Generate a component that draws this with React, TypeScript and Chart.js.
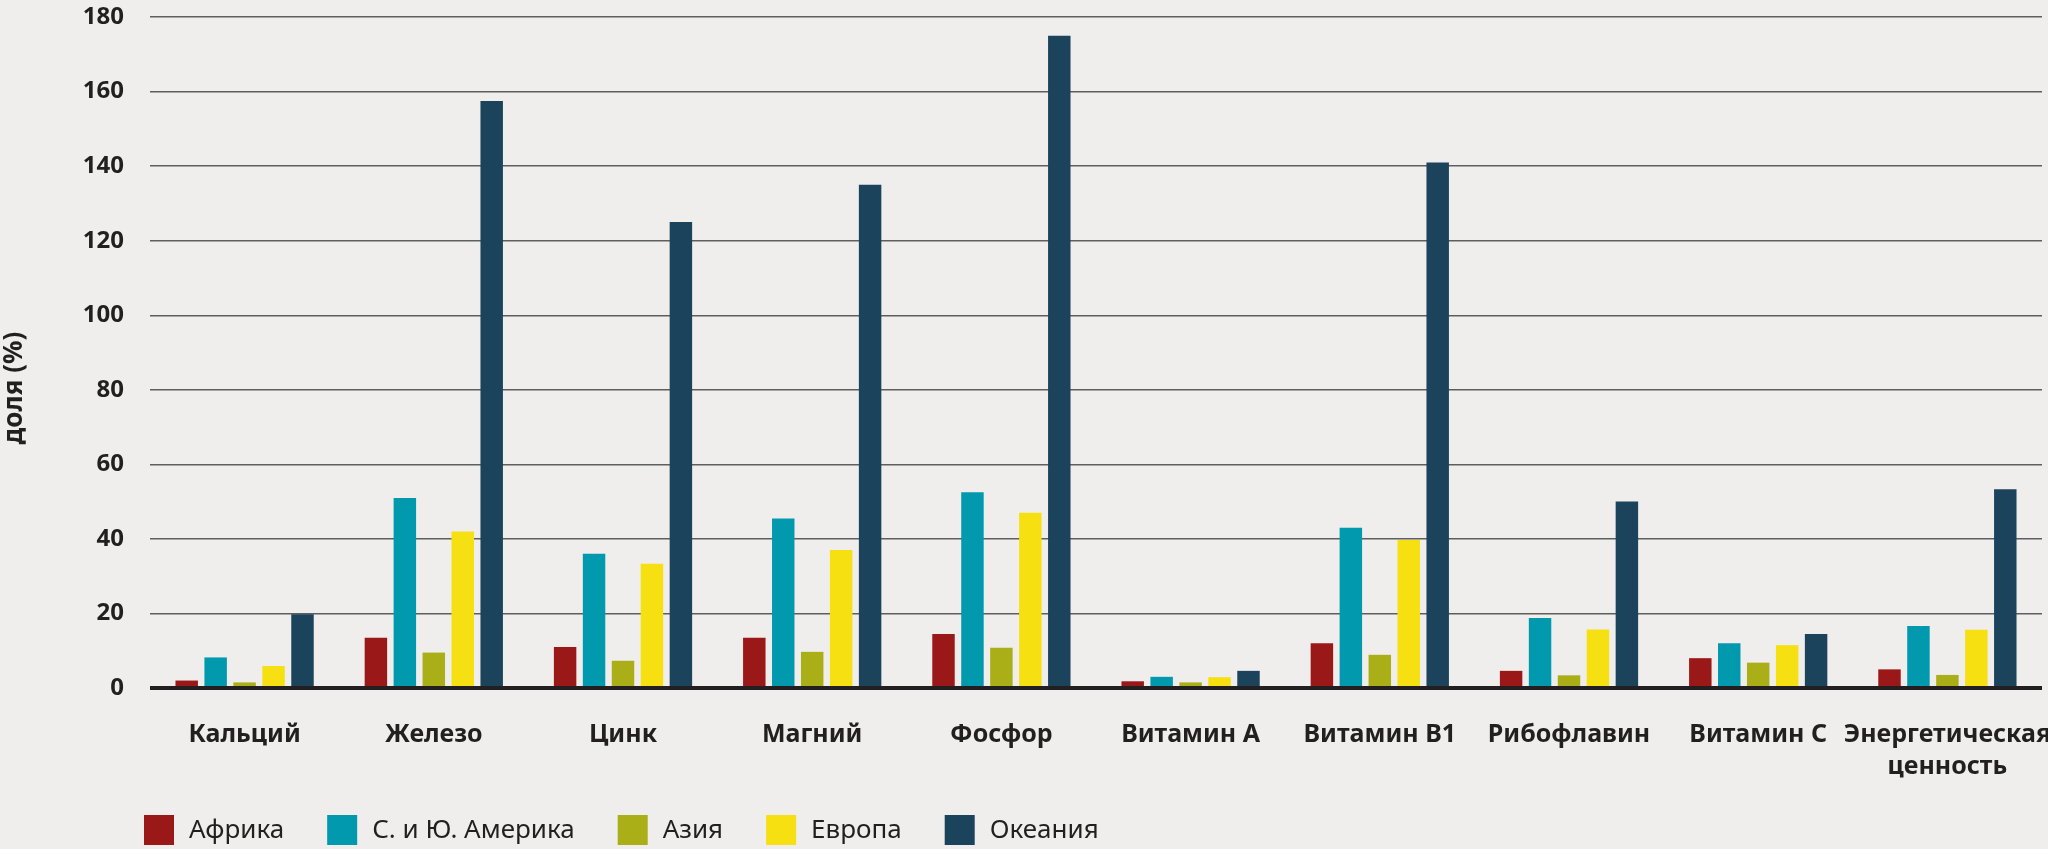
import React, { useEffect, useRef } from "react";
import { Chart, registerables } from "chart.js";

Chart.register(...registerables);

const categories: (string | string[])[] = [
  "Кальций",
  "Железо",
  "Цинк",
  "Магний",
  "Фосфор",
  "Витамин А",
  "Витамин В1",
  "Рибофлавин",
  "Витамин С",
  ["Энергетическая", "ценность"],
];

const seriesNames = ["Африка", "С. и Ю. Америка", "Азия", "Европа", "Океания"];
const seriesColors = ["#9b1818", "#0099ad", "#aaaf17", "#f6e012", "#1b435c"];

const africa = [2, 13.5, 11, 13.5, 14.5, 1.8, 12, 4.6, 8, 5];
const americas = [8.2, 51, 36, 45.5, 52.5, 3, 43, 18.8, 12, 16.6];
const asia = [1.5, 9.5, 7.3, 9.7, 10.8, 1.5, 8.9, 3.4, 6.8, 3.5];
const europe = [5.9, 42, 33.3, 37, 47, 2.9, 39.7, 15.7, 11.5, 15.6];
const oceania = [19.8, 157.5, 125, 135, 175, 4.6, 141, 50, 14.5, 53.3];

const yTitle = "доля (%)";
const yMin = 0;
const yMax = 180;
const yStep = 20;

const TEXT = "#231f20";
const BG = "#efeeec";

const yTitlePlugin = {
  id: "yTitleCustom",
  afterDraw(chart: any) {
    const ctx = chart.ctx;
    ctx.save();
    ctx.translate(15, 388);
    ctx.rotate(-Math.PI / 2);
    ctx.font = '700 26px "Noto Sans"';
    ctx.fillStyle = TEXT;
    ctx.textAlign = "center";
    ctx.textBaseline = "middle";
    ctx.fillText(yTitle, 0, 0);
    ctx.restore();
  },
};

const legendPlugin = {
  id: "legendCustom",
  afterDraw(chart: any) {
    const ctx = chart.ctx;
    ctx.save();
    ctx.font = '400 26px "Noto Sans"';
    ctx.textAlign = "left";
    ctx.textBaseline = "middle";
    let x = 144;
    const y = 830;
    chart.data.datasets.forEach((ds: any) => {
      ctx.fillStyle = ds.backgroundColor;
      ctx.fillRect(x, y - 15, 30, 30);
      ctx.fillStyle = TEXT;
      ctx.fillText(ds.label, x + 45, y + 1);
      x += 45 + ctx.measureText(ds.label).width + 43;
    });
    ctx.restore();
  },
};

export default function App() {
  const ref = useRef<HTMLCanvasElement>(null);

  useEffect(() => {
    document.body.style.margin = "0";
    document.body.style.background = BG;
    const values = [africa, americas, asia, europe, oceania];
    const chart = new Chart(ref.current!, {
      type: "bar",
      data: {
        labels: categories,
        datasets: values.map((v, i) => ({
          label: seriesNames[i],
          data: v,
          backgroundColor: seriesColors[i],
          borderWidth: 0,
          categoryPercentage: 0.765,
          barPercentage: 0.776,
        })),
      },
      options: {
        responsive: false,
        animation: false,
        devicePixelRatio: 1,
        layout: { padding: { top: 17, right: 6, bottom: 0, left: 0 } },
        plugins: {
          legend: { display: false },
          tooltip: { enabled: false },
        },
        scales: {
          x: {
            grid: { display: false },
            border: { display: false },
            ticks: {
              color: TEXT,
              font: { family: "Noto Sans", size: 25, weight: "bold", lineHeight: 1.28 },
              padding: 23,
              maxRotation: 0,
              autoSkip: false,
            },
            afterFit: (s: any) => {
              s.height = 849 - 688;
              s.paddingLeft = 0;
              s.paddingRight = 0;
            },
          },
          y: {
            min: yMin,
            max: yMax,
            border: { display: false },
            grid: {
              drawTicks: false,
              color: (c: any) => (c.tick && c.tick.value === 0 ? TEXT : "#5e5e5e"),
              lineWidth: (c: any) => (c.tick && c.tick.value === 0 ? 4 : 1.4),
            },
            ticks: {
              stepSize: yStep,
              color: TEXT,
              font: { family: "Noto Sans", size: 24, weight: "bold" },
              padding: 26,
            },
            afterFit: (s: any) => {
              s.width = 150;
              s.paddingTop = 0;
              s.paddingBottom = 0;
            },
          },
        },
      },
      plugins: [yTitlePlugin, legendPlugin],
    });
    return () => chart.destroy();
  }, []);

  return (
    <div style={{ width: 2048, height: 849, background: BG }}>
      <canvas ref={ref} width={2048} height={849} style={{ display: "block", width: 2048, height: 849 }} />
    </div>
  );
}
